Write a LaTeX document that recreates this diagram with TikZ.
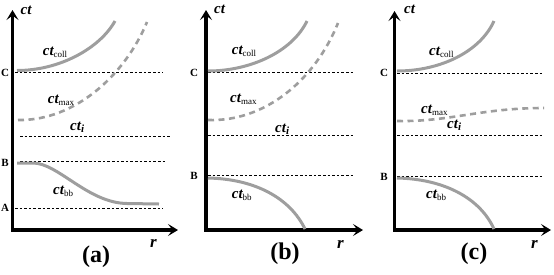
\documentclass[tikz,border=0pt]{standalone}
\usepackage{fontspec}
\setmainfont{Liberation Serif}
\usetikzlibrary{arrows.meta}

\definecolor{curvegray}{gray}{0.62}
\newcommand{\ctsub}[1]{ct\textsubscript{\normalfont\fontsize{9}{10}\selectfont #1}}

\begin{document}
\begin{tikzpicture}[x=1pt, y=-1pt,
    axisline/.style={line width=3.6pt, line join=miter,
                 {Stealth[length=10pt, width=12pt, inset=4.5pt]}-{Stealth[length=10pt, width=12pt, inset=4.5pt]}},
    levelline/.style={line width=0.7pt, dash pattern=on 2.6pt off 2pt},
    worldline/.style={line width=3pt, curvegray},
    maxcurve/.style={line width=2.6pt, curvegray, dash pattern=on 6pt off 4.5pt},
    lbl/.style={anchor=base west, inner sep=0pt, font=\fontsize{15}{17}\selectfont\bfseries\itshape},
    timelbl/.style={inner sep=0pt, font=\fontsize{11}{13}\selectfont\bfseries},
    axlbl/.style={anchor=base west, inner sep=0pt, font=\fontsize{17}{19}\selectfont\bfseries\itshape},
    paneltag/.style={inner sep=0pt, font=\fontsize{24}{26}\selectfont\bfseries},
  ]
  \useasboundingbox (0,0) rectangle (554,274);

  % Axis corners and tips (pixel grid, y downwards)
  \def\yAxis{230}

  % ── Panel (a) ───────────────────────────────────────────────────────
  \coordinate (aT) at (12.5,10);
  \coordinate (aO) at (12.5,\yAxis);
  \coordinate (aR) at (178,\yAxis);
  \draw[axisline] (aT) -- (aO) -- (aR);
  \node[lbl]   (aCt) at (20.5,14)  {ct};
  \node[axlbl] (aRr) at (150,247)  {r};
  \node[paneltag] (aTag) at (96,257)  {(a)};

  \node[timelbl] (aC) at (5,72.7) {C};
  \node[timelbl] (aB) at (5,163)  {B};
  \node[timelbl] (aA) at (5,208)  {A};
  \draw[levelline] (15,72.7) -- (163,72.7);
  \draw[levelline] (20,136)  -- (170,136);
  \draw[levelline] (20,161)  -- (167,161);
  \draw[levelline] (15,208)  -- (163,208);

  \draw[worldline] (17,70.5) .. controls (60,70.5) and (100,48) .. (115,21);
  \draw[maxcurve]  (18,120) .. controls (75,121) and (125,75) .. (147,22);
  \draw[worldline] (17,163) -- (33,163) .. controls (58,163) and (88,203) .. (127,203.5) -- (159,204);

  \node[lbl] (aColl) at (42.7,55)  {\ctsub{coll}};
  \node[lbl] (aMax)  at (47.7,103) {\ctsub{max}};
  \node[lbl] (aI)    at (70,130)   {ct\textsubscript{\fontsize{11}{12}\selectfont i}};
  \node[lbl] (aBb)   at (53,194)   {\ctsub{bb}};

  % ── Panel (b) ───────────────────────────────────────────────────────
  \coordinate (bT) at (206,10);
  \coordinate (bO) at (206,\yAxis);
  \coordinate (bR) at (363,\yAxis);
  \draw[axisline] (bT) -- (bO) -- (bR);
  \node[lbl]   (bCt) at (214,13)   {ct};
  \node[axlbl] (bRr) at (337,248)  {r};
  \node[paneltag] (bTag) at (285,254) {(b)};

  \node[timelbl] (bC) at (194,72.7) {C};
  \node[timelbl] (bB) at (194,176)  {B};
  \draw[levelline] (208,72.7) -- (355,72.7);
  \draw[levelline] (208,135)  -- (353,135);
  \draw[levelline] (208,175)  -- (355,175);

  \draw[worldline] (208,71) .. controls (250,71) and (292,52) .. (307,21);
  \draw[maxcurve]  (208,120) .. controls (265,122) and (315,80) .. (338,23);
  \draw[worldline] (208,178) .. controls (255,179) and (290,198) .. (305,229);

  \node[lbl] (bColl) at (231.7,54) {\ctsub{coll}};
  \node[lbl] (bMax)  at (230,102)  {\ctsub{max}};
  \node[lbl] (bI)    at (275,132)  {ct\textsubscript{\fontsize{11}{12}\selectfont i}};
  \node[lbl] (bBb)   at (231.7,198) {\ctsub{bb}};

  % ── Panel (c) ───────────────────────────────────────────────────────
  \coordinate (cT) at (394.5,11);
  \coordinate (cO) at (394.5,\yAxis);
  \coordinate (cR) at (551,\yAxis);
  \draw[axisline] (cT) -- (cO) -- (cR);
  \node[lbl]   (cCt) at (404,13)   {ct};
  \node[axlbl] (cRr) at (531,248)  {r};
  \node[paneltag] (cTag) at (474,254) {(c)};

  \node[timelbl] (cC) at (384,73)  {C};
  \node[timelbl] (cB) at (384,177) {B};
  \draw[levelline] (397,73)  -- (544,73);
  \draw[levelline] (397,135) -- (544,135);
  \draw[levelline] (397,176) -- (544,176);

  \draw[worldline] (397,71) .. controls (440,71) and (480,52) .. (494,21);
  \draw[maxcurve]  (397,121) .. controls (450,122) and (480,108) .. (544,108);
  \draw[worldline] (397,178) .. controls (444,179) and (480,198) .. (494,229);

  \node[lbl] (cColl) at (429,55)  {\ctsub{coll}};
  \node[lbl] (cMax)  at (421,113) {\ctsub{max}};
  \node[lbl] (cI)    at (447,128) {ct\textsubscript{\fontsize{11}{12}\selectfont i}};
  \node[lbl] (cBb)   at (426,198) {\ctsub{bb}};
\end{tikzpicture}
\end{document}
